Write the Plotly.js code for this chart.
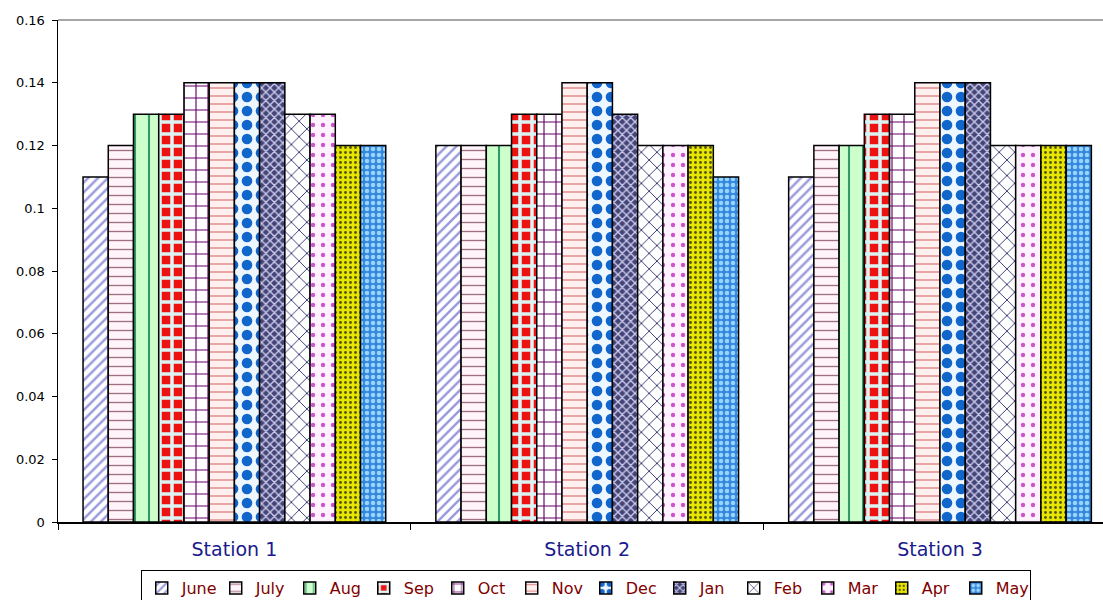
<!DOCTYPE html>
<html>
<head>
<meta charset="utf-8">
<script src="https://cdn.plot.ly/plotly-3.0.1.min.js"></script>
<style>html,body{margin:0;padding:0;background:#fff;}#chart{width:1103px;height:600px;}</style>
</head>
<body>
<div id="chart"></div>
<script>
const stations = ["Station 1", "Station 2", "Station 3"];
const months = ["June","July","Aug","Sep","Oct","Nov","Dec","Jan","Feb","Mar","Apr","May"];
const june = [0.11, 0.12, 0.11];
const july = [0.12, 0.12, 0.12];
const aug  = [0.13, 0.12, 0.12];
const sep  = [0.13, 0.13, 0.13];
const oct  = [0.14, 0.13, 0.13];
const nov  = [0.14, 0.14, 0.14];
const dec  = [0.14, 0.14, 0.14];
const jan  = [0.14, 0.13, 0.14];
const feb  = [0.13, 0.12, 0.12];
const mar  = [0.13, 0.12, 0.12];
const apr  = [0.12, 0.12, 0.12];
const may  = [0.12, 0.11, 0.12];
const seriesValues = [june, july, aug, sep, oct, nov, dec, jan, feb, mar, apr, may];

const styles = [
  {shape:"/", bg:"#ffffff", fg:"#9999dd", size:7, solidity:0.35},
  {shape:"-", bg:"#fff4fa", fg:"#a07080", size:9, solidity:0.15},
  {shape:"|", bg:"#ccffcc", fg:"#339966", size:14, solidity:0.15},
  {shape:"+", bg:"#ee1111", fg:"#ddf4f4", size:12, solidity:0.5},
  {shape:"+", bg:"#ffffff", fg:"#660066", size:12, solidity:0.18},
  {shape:"-", bg:"#fff0f0", fg:"#e08888", size:8, solidity:0.18},
  {shape:".", bg:"#eef6ff", fg:"#1166cc", size:14, solidity:0.45},
  {shape:"x", bg:"#444477", fg:"#ccccee", size:6, solidity:0.4},
  {shape:"x", bg:"#ffffff", fg:"#222266", size:11, solidity:0.15},
  {shape:".", bg:"#fff2ff", fg:"#cc55cc", size:10, solidity:0.15},
  {shape:".", bg:"#e6e600", fg:"#555511", size:5, solidity:0.25},
  {shape:".", bg:"#3388dd", fg:"#99d4ff", size:6, solidity:0.45}
];

const data = months.map((m, i) => ({
  type: "bar",
  name: m,
  x: stations,
  y: seriesValues[i],
  marker: {
    color: styles[i].bg,
    line: {color: "#000000", width: 1.5},
    pattern: {shape: styles[i].shape, bgcolor: styles[i].bg, fgcolor: styles[i].fg,
              size: styles[i].size, solidity: styles[i].solidity, fillmode: "replace"}
  },
  hoverinfo: "x+y+name"
}));

const layout = {
  width: 1103, height: 600,
  margin: {l: 58, r: 0, t: 20, b: 78, autoexpand: false},
  paper_bgcolor: "#ffffff", plot_bgcolor: "#ffffff",
  barmode: "group", bargap: 0.142, bargroupgap: 0,
  font: {family: "DejaVu Sans, Arial, sans-serif", color: "#000000"},
  xaxis: {
    type: "category",
    range: [-0.5, 2.462],
    showline: true, linecolor: "#000000", linewidth: 1.5,
    ticks: "outside", ticklen: 6, tickcolor: "#000000", tickwidth: 1,
    tickson: "boundaries", ticklabelstandoff: 10,
    showgrid: false, zeroline: false,
    tickfont: {size: 19, color: "#1a1a8c"}
  },
  yaxis: {
    range: [0, 0.16], dtick: 0.02, tick0: 0,
    showline: true, linecolor: "#000000", linewidth: 1.5,
    ticks: "outside", ticklen: 5, tickcolor: "#000000",
    ticklabelstandoff: 4,
    showgrid: false, zeroline: false,
    tickfont: {size: 13, color: "#000000"}
  },
  shapes: [
    {type: "line", xref: "paper", yref: "paper", x0: 0, x1: 1, y0: 1, y1: 1,
     line: {color: "#888888", width: 1.5}}
  ],
  legend: {
    orientation: "h", x: 0.505, xanchor: "center", y: -0.0956, yanchor: "top",
    bordercolor: "#000000", borderwidth: 1, bgcolor: "#ffffff",
    font: {size: 16, color: "#800000"},
    itemwidth: 30, traceorder: "normal",
    entrywidth: 29, entrywidthmode: "pixels"
  },
  showlegend: true
};

Plotly.newPlot("chart", data, layout, {displayModeBar: false, staticPlot: true});
</script>
</body>
</html>
